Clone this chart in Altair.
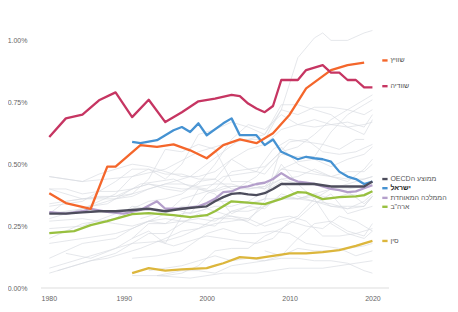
import altair as alt
import pandas as pd

# ---- highlighted series (year, value in % of GDP; 1.0 = 1.00%) ----
sweden_years = [1981, 1983, 1985, 1987, 1989, 1991, 1993, 1995, 1997, 1999, 2001, 2003, 2004, 2005, 2006, 2007, 2008, 2009, 2010, 2011, 2012, 2013, 2014, 2015, 2016, 2017, 2018, 2019, 2020]
sweden_vals = [0.61, 0.685, 0.70, 0.758, 0.79, 0.69, 0.76, 0.67, 0.71, 0.754, 0.765, 0.78, 0.775, 0.745, 0.725, 0.71, 0.735, 0.84, 0.84, 0.84, 0.88, 0.89, 0.90, 0.87, 0.87, 0.84, 0.84, 0.81, 0.81]

swiss_years = [1981, 1983, 1986, 1988, 1989, 1992, 1994, 1996, 1998, 2000, 2002, 2004, 2006, 2008, 2010, 2012, 2015, 2017, 2019]
swiss_vals = [0.383, 0.343, 0.32, 0.49, 0.49, 0.577, 0.57, 0.58, 0.556, 0.524, 0.577, 0.60, 0.585, 0.625, 0.70, 0.806, 0.88, 0.90, 0.91]

israel_years = [1991, 1992, 1994, 1996, 1997, 1998, 1999, 2000, 2002, 2003, 2004, 2006, 2007, 2008, 2009, 2010, 2011, 2012, 2013, 2014, 2015, 2016, 2017, 2018, 2019, 2020]
israel_vals = [0.59, 0.585, 0.597, 0.637, 0.65, 0.63, 0.665, 0.617, 0.665, 0.685, 0.617, 0.617, 0.577, 0.60, 0.55, 0.535, 0.52, 0.53, 0.524, 0.52, 0.51, 0.47, 0.45, 0.44, 0.42, 0.43]

oecd_years = [1981, 1983, 1985, 1987, 1989, 1991, 1993, 1995, 1997, 1999, 2000, 2001, 2002, 2003, 2004, 2005, 2006, 2007, 2008, 2009, 2010, 2011, 2012, 2013, 2014, 2015, 2016, 2017, 2018, 2019, 2020]
oecd_vals = [0.30, 0.30, 0.305, 0.31, 0.31, 0.315, 0.32, 0.31, 0.32, 0.327, 0.33, 0.35, 0.367, 0.38, 0.383, 0.378, 0.375, 0.383, 0.40, 0.42, 0.42, 0.42, 0.42, 0.42, 0.415, 0.41, 0.41, 0.41, 0.41, 0.41, 0.43]

uk_years = [1981, 1983, 1985, 1986, 1988, 1990, 1992, 1994, 1995, 1997, 1999, 2000, 2001, 2002, 2003, 2004, 2005, 2006, 2007, 2008, 2009, 2010, 2011, 2012, 2013, 2014, 2015, 2016, 2017, 2018, 2019, 2020]
uk_vals = [0.306, 0.30, 0.31, 0.32, 0.307, 0.30, 0.315, 0.35, 0.32, 0.32, 0.33, 0.343, 0.36, 0.387, 0.39, 0.405, 0.41, 0.42, 0.425, 0.44, 0.464, 0.443, 0.43, 0.425, 0.42, 0.41, 0.40, 0.395, 0.387, 0.39, 0.403, 0.415]

us_years = [1981, 1984, 1986, 1988, 1991, 1993, 1996, 1998, 2000, 2001, 2003, 2005, 2007, 2009, 2011, 2012, 2014, 2016, 2018, 2019, 2020]
us_vals = [0.222, 0.23, 0.254, 0.27, 0.298, 0.302, 0.294, 0.286, 0.294, 0.31, 0.35, 0.345, 0.339, 0.36, 0.387, 0.385, 0.359, 0.367, 0.37, 0.375, 0.391]

china_years = [1991, 1993, 1995, 1997, 2000, 2001, 2002, 2004, 2006, 2008, 2010, 2012, 2014, 2016, 2018, 2019, 2020]
china_vals = [0.06, 0.08, 0.07, 0.075, 0.08, 0.09, 0.10, 0.125, 0.12, 0.13, 0.14, 0.14, 0.145, 0.153, 0.17, 0.18, 0.19]

# ---- background (grey) countries, (year, value) pairs ----
g_denmark = [(1981, 0.45), (1985, 0.43), (1991, 0.45), (1995, 0.48), (1999, 0.55), (2002, 0.58), (2005, 0.60), (2007, 0.62), (2009, 0.72), (2011, 0.93), (2013, 1.01), (2014, 1.03), (2015, 1.00), (2017, 1.00), (2019, 1.03), (2020, 1.04)]
g_netherlands = [(1981, 0.45), (1983, 0.44), (1985, 0.43), (1987, 0.46), (1989, 0.48), (1991, 0.50), (1993, 0.49), (1995, 0.47), (1997, 0.45), (1999, 0.45), (2001, 0.47), (2003, 0.52), (2005, 0.56), (2007, 0.58), (2009, 0.64), (2011, 0.66), (2013, 0.68), (2015, 0.66), (2017, 0.65), (2019, 0.66), (2020, 0.67)]
g_austria = [(1981, 0.30), (1985, 0.32), (1989, 0.36), (1993, 0.40), (1998, 0.45), (2002, 0.55), (2004, 0.60), (2006, 0.60), (2007, 0.60), (2009, 0.72), (2011, 0.70), (2013, 0.73), (2015, 0.73), (2017, 0.72), (2019, 0.70), (2020, 0.72)]
g_finland = [(1981, 0.28), (1983, 0.30), (1985, 0.32), (1987, 0.35), (1989, 0.38), (1991, 0.45), (1993, 0.48), (1995, 0.44), (1997, 0.50), (1999, 0.62), (2001, 0.64), (2003, 0.67), (2005, 0.65), (2007, 0.62), (2009, 0.74), (2011, 0.74), (2013, 0.72), (2015, 0.70), (2017, 0.65), (2019, 0.62), (2020, 0.68)]
g_norway = [(1981, 0.33), (1985, 0.35), (1989, 0.43), (1991, 0.48), (1993, 0.48), (1995, 0.46), (1997, 0.46), (1999, 0.44), (2001, 0.44), (2003, 0.52), (2005, 0.48), (2007, 0.46), (2009, 0.54), (2011, 0.53), (2013, 0.53), (2015, 0.63), (2017, 0.70), (2019, 0.74), (2020, 0.76)]
g_canada = [(1981, 0.30), (1983, 0.35), (1985, 0.36), (1987, 0.37), (1989, 0.37), (1991, 0.40), (1993, 0.42), (1995, 0.40), (1997, 0.39), (1999, 0.42), (2001, 0.50), (2003, 0.60), (2005, 0.66), (2007, 0.64), (2009, 0.70), (2011, 0.66), (2013, 0.65), (2015, 0.66), (2017, 0.67), (2019, 0.65), (2020, 0.70)]
g_australia = [(1981, 0.30), (1984, 0.31), (1986, 0.33), (1988, 0.34), (1990, 0.38), (1992, 0.42), (1994, 0.43), (1996, 0.44), (1998, 0.41), (2000, 0.40), (2002, 0.45), (2004, 0.46), (2006, 0.47), (2008, 0.56), (2010, 0.60), (2012, 0.59), (2014, 0.58), (2016, 0.56), (2018, 0.60), (2019, 0.60)]
g_germany = [(1981, 0.40), (1983, 0.40), (1985, 0.38), (1987, 0.39), (1989, 0.39), (1991, 0.40), (1993, 0.42), (1995, 0.41), (1997, 0.40), (1999, 0.40), (2001, 0.39), (2003, 0.41), (2005, 0.41), (2007, 0.40), (2009, 0.48), (2011, 0.51), (2013, 0.52), (2015, 0.49), (2017, 0.52), (2019, 0.54), (2020, 0.57)]
g_france = [(1981, 0.34), (1985, 0.36), (1989, 0.36), (1991, 0.37), (1993, 0.40), (1995, 0.42), (1997, 0.42), (1999, 0.41), (2001, 0.42), (2003, 0.42), (2005, 0.40), (2007, 0.41), (2009, 0.48), (2011, 0.47), (2013, 0.46), (2015, 0.45), (2017, 0.44), (2019, 0.44), (2020, 0.45)]
g_japan = [(1981, 0.40), (1985, 0.36), (1989, 0.37), (1991, 0.38), (1993, 0.44), (1995, 0.56), (1997, 0.55), (1999, 0.58), (2001, 0.56), (2003, 0.43), (2005, 0.43), (2007, 0.40), (2009, 0.44), (2011, 0.42), (2013, 0.42), (2015, 0.40), (2017, 0.40), (2019, 0.41), (2020, 0.42)]
g_belgium = [(1981, 0.24), (1985, 0.25), (1989, 0.30), (1991, 0.32), (1993, 0.35), (1995, 0.36), (1997, 0.38), (1999, 0.43), (2001, 0.44), (2003, 0.40), (2005, 0.40), (2007, 0.41), (2009, 0.44), (2011, 0.45), (2013, 0.48), (2015, 0.45), (2017, 0.47), (2019, 0.47), (2020, 0.50)]
g_italy = [(1981, 0.20), (1985, 0.26), (1989, 0.28), (1991, 0.33), (1993, 0.32), (1995, 0.30), (1997, 0.33), (1999, 0.33), (2001, 0.35), (2003, 0.35), (2005, 0.34), (2007, 0.36), (2009, 0.36), (2011, 0.36), (2013, 0.37), (2015, 0.33), (2017, 0.32), (2019, 0.33), (2020, 0.37)]
g_spain = [(1981, 0.08), (1985, 0.12), (1989, 0.16), (1991, 0.20), (1993, 0.26), (1995, 0.26), (1997, 0.27), (1999, 0.28), (2001, 0.27), (2003, 0.31), (2005, 0.31), (2007, 0.33), (2009, 0.37), (2011, 0.36), (2013, 0.35), (2015, 0.33), (2017, 0.33), (2019, 0.33), (2020, 0.37)]
g_portugal = [(1982, 0.07), (1986, 0.11), (1988, 0.12), (1990, 0.14), (1992, 0.16), (1995, 0.20), (1997, 0.23), (1999, 0.24), (2001, 0.28), (2003, 0.28), (2005, 0.27), (2007, 0.35), (2009, 0.57), (2011, 0.50), (2013, 0.47), (2015, 0.45), (2017, 0.43), (2019, 0.48), (2020, 0.52)]
g_korea = [(1983, 0.14), (1986, 0.12), (1989, 0.16), (1991, 0.18), (1995, 0.19), (1997, 0.21), (1999, 0.24), (2001, 0.26), (2003, 0.27), (2005, 0.28), (2007, 0.33), (2009, 0.36), (2011, 0.36), (2013, 0.38), (2015, 0.36), (2017, 0.38), (2019, 0.37), (2020, 0.39)]
g_ireland = [(1981, 0.18), (1985, 0.20), (1989, 0.22), (1991, 0.24), (1993, 0.27), (1995, 0.28), (1997, 0.27), (1999, 0.26), (2001, 0.25), (2003, 0.31), (2005, 0.33), (2007, 0.36), (2009, 0.50), (2011, 0.42), (2013, 0.36), (2015, 0.26), (2017, 0.22), (2019, 0.20), (2020, 0.23)]
g_greece = [(1981, 0.06), (1985, 0.10), (1989, 0.14), (1991, 0.18), (1993, 0.22), (1995, 0.22), (1997, 0.26), (1999, 0.30), (2001, 0.28), (2003, 0.29), (2005, 0.28), (2007, 0.25), (2011, 0.29), (2013, 0.36), (2015, 0.40), (2017, 0.39), (2019, 0.34), (2020, 0.37)]
g_czech = [(1991, 0.05), (1995, 0.05), (1997, 0.06), (1999, 0.09), (2001, 0.15), (2003, 0.16), (2005, 0.16), (2007, 0.21), (2009, 0.24), (2011, 0.28), (2013, 0.34), (2015, 0.38), (2017, 0.30), (2019, 0.32), (2020, 0.33)]
g_nz = [(1981, 0.27), (1985, 0.28), (1989, 0.26), (1991, 0.25), (1993, 0.27), (1995, 0.26), (1997, 0.30), (1999, 0.31), (2001, 0.33), (2003, 0.33), (2005, 0.35), (2007, 0.39), (2009, 0.43), (2011, 0.37), (2013, 0.35), (2015, 0.34), (2017, 0.32), (2019, 0.35), (2020, 0.38)]
g_poland = [(1994, 0.19), (1996, 0.17), (1998, 0.19), (2000, 0.21), (2002, 0.20), (2004, 0.19), (2006, 0.18), (2008, 0.20), (2010, 0.27), (2012, 0.25), (2014, 0.24), (2016, 0.29), (2018, 0.27), (2020, 0.23)]
g_hungary = [(1991, 0.12), (1994, 0.13), (1997, 0.15), (2000, 0.22), (2002, 0.24), (2004, 0.22), (2006, 0.22), (2008, 0.23), (2010, 0.22), (2012, 0.18), (2014, 0.17), (2016, 0.16), (2018, 0.13), (2020, 0.15)]
g_turkey = [(1991, 0.20), (1993, 0.23), (1995, 0.18), (1997, 0.29), (1999, 0.40), (2001, 0.38), (2003, 0.30), (2005, 0.33), (2007, 0.32), (2009, 0.38), (2011, 0.36), (2013, 0.38), (2015, 0.40), (2017, 0.42), (2019, 0.44), (2020, 0.45)]
g_mexico = [(1993, 0.07), (1995, 0.08), (1997, 0.09), (1999, 0.11), (2001, 0.13), (2003, 0.11), (2005, 0.12), (2007, 0.11), (2009, 0.12), (2011, 0.12), (2013, 0.11), (2015, 0.11), (2017, 0.10), (2019, 0.07), (2020, 0.06)]
g_slovakia = [(1994, 0.05), (1997, 0.07), (1999, 0.07), (2001, 0.06), (2003, 0.09), (2005, 0.10), (2007, 0.11), (2009, 0.13), (2011, 0.20), (2013, 0.26), (2015, 0.27), (2017, 0.23), (2019, 0.21), (2020, 0.26)]
g_iceland = [(1981, 0.12), (1985, 0.18), (1989, 0.20), (1991, 0.24), (1995, 0.30), (1997, 0.36), (1999, 0.38), (2001, 0.40), (2003, 0.47), (2005, 0.48), (2007, 0.49), (2009, 0.55), (2011, 0.57), (2013, 0.62), (2015, 0.68), (2017, 0.72), (2019, 0.76), (2020, 0.78)]
g_slovenia = [(1992, 0.28), (1994, 0.30), (1996, 0.32), (1998, 0.30), (2000, 0.32), (2002, 0.30), (2004, 0.28), (2006, 0.25), (2008, 0.28), (2010, 0.29), (2012, 0.27), (2014, 0.21), (2016, 0.21), (2018, 0.22), (2020, 0.24)]
g_estonia = [(1998, 0.30), (2000, 0.38), (2002, 0.41), (2004, 0.41), (2006, 0.45), (2008, 0.52), (2010, 0.59), (2012, 0.60), (2014, 0.55), (2016, 0.54), (2018, 0.55), (2020, 0.58)]
g_chile = [(2007, 0.15), (2009, 0.13), (2011, 0.16), (2013, 0.15), (2015, 0.15), (2017, 0.16), (2019, 0.17), (2020, 0.18)]
g_russia = [(1994, 0.05), (1998, 0.04), (2002, 0.06), (2006, 0.06), (2010, 0.08), (2014, 0.08), (2018, 0.10), (2020, 0.11)]

gray_list = [g_denmark, g_netherlands, g_austria, g_finland, g_norway, g_canada, g_australia,
             g_germany, g_france, g_japan, g_belgium, g_italy, g_spain, g_portugal, g_korea,
             g_ireland, g_greece, g_czech, g_nz, g_poland, g_hungary, g_turkey, g_mexico,
             g_slovakia, g_iceland, g_slovenia, g_estonia, g_chile, g_russia]

# ---- labels ----
names = ["sweden", "swiss", "oecd", "israel", "uk", "us", "china"]
label_texts = ["שוודיה", "שוויץ", "\u202bממוצע הOECD\u202c", "ישראל", "הממלכה המאוחדת", "ארה\"ב", "סין"]
label_y = [0.815, 0.919, 0.440, 0.403, 0.364, 0.328, 0.19]
colors = ["#c63562", "#f4662b", "#4d4d5c", "#4592d2", "#b49fcb", "#98c03f", "#dcb63c"]
bold = [False, False, False, True, False, False, False]

y_ticks = [0, 0.25, 0.5, 0.75, 1.0]
x_ticks = [1980, 1990, 2000, 2010, 2020]

series_years = [sweden_years, swiss_years, oecd_years, israel_years, uk_years, us_years, china_years]
series_vals = [sweden_vals, swiss_vals, oecd_vals, israel_vals, uk_vals, us_vals, china_vals]

rows = []
for n, ys, vs in zip(names, series_years, series_vals):
    for y, v in zip(ys, vs):
        rows.append({"name": n, "year": y, "value": v})
hl = pd.DataFrame(rows)

grows = []
for i, s in enumerate(gray_list):
    for y, v in s:
        grows.append({"name": f"g{i}", "year": y, "value": v})
gr = pd.DataFrame(grows)

lab = pd.DataFrame({"name": names, "text": label_texts, "ly": label_y,
                    "year": [2020] * len(names), "bold": bold})

xs = alt.Scale(domain=[1980, 2022], nice=False, zero=False)
ys_ = alt.Scale(domain=[0, 1.05], nice=False)
cscale = alt.Scale(domain=names, range=colors)

x_axis = alt.Axis(values=x_ticks, format="d", title=None, grid=False,
                  ticks=False, domain=False, labelFontSize=7, labelColor="#666",
                  labelPadding=6, labelFont="Liberation Sans")
y_axis = alt.Axis(values=y_ticks, labelExpr="format(datum.value, '.2f') + '%'", title=None,
                  grid=False, ticks=False, domain=False, labelFontSize=7, labelColor="#666",
                  labelPadding=14, labelFont="Liberation Sans")

base_rule = alt.Chart(pd.DataFrame({"v": [0]})).mark_rule(color="#eeeeee", strokeWidth=2).encode(
    y=alt.Y("v:Q", scale=ys_, axis=y_axis)
)

gray = alt.Chart(gr).mark_line(color="#d9dce1", strokeWidth=0.8, opacity=0.85).encode(
    x=alt.X("year:Q", scale=xs, axis=x_axis),
    y=alt.Y("value:Q", scale=ys_, axis=y_axis),
    detail="name:N",
)

order_draw = ["china", "us", "uk", "israel", "oecd", "swiss", "sweden"]
hl_layers = []
for n in order_draw:
    sub = hl[hl.name == n]
    hl_layers.append(
        alt.Chart(sub).mark_line(strokeWidth=2.3, strokeJoin="round").encode(
            x=alt.X("year:Q", scale=xs),
            y=alt.Y("value:Q", scale=ys_),
            color=alt.Color("name:N", scale=cscale, legend=None),
        )
    )

dash = alt.Chart(lab).mark_point(
    shape="M-1,-0.45L1,-0.45L1,0.45L-1,0.45Z", filled=True, size=28, opacity=1, xOffset=12.5
).encode(
    x=alt.X("year:Q", scale=xs),
    y=alt.Y("ly:Q", scale=ys_),
    color=alt.Color("name:N", scale=cscale, legend=None),
)

texts_normal = alt.Chart(lab[~lab.bold]).mark_text(
    align="left", baseline="middle", dx=18, fontSize=7, color="#555", font="Liberation Sans"
).encode(
    x=alt.X("year:Q", scale=xs),
    y=alt.Y("ly:Q", scale=ys_),
    text="text:N",
)
texts_bold = alt.Chart(lab[lab.bold]).mark_text(
    align="left", baseline="middle", dx=18, fontSize=7, color="#222", fontWeight="bold",
    font="Liberation Sans"
).encode(
    x=alt.X("year:Q", scale=xs),
    y=alt.Y("ly:Q", scale=ys_),
    text="text:N",
)

chart = alt.layer(base_rule, gray, *hl_layers, dash, texts_normal, texts_bold).properties(
    width=348, height=260,
    autosize=alt.AutoSizeParams(type="none"),
    padding={"left": 33, "top": 20, "right": 61, "bottom": 16},
    background="white",
).configure_view(stroke=None)

chart.save("out.html", embed_options={"renderer": "svg", "actions": False})
